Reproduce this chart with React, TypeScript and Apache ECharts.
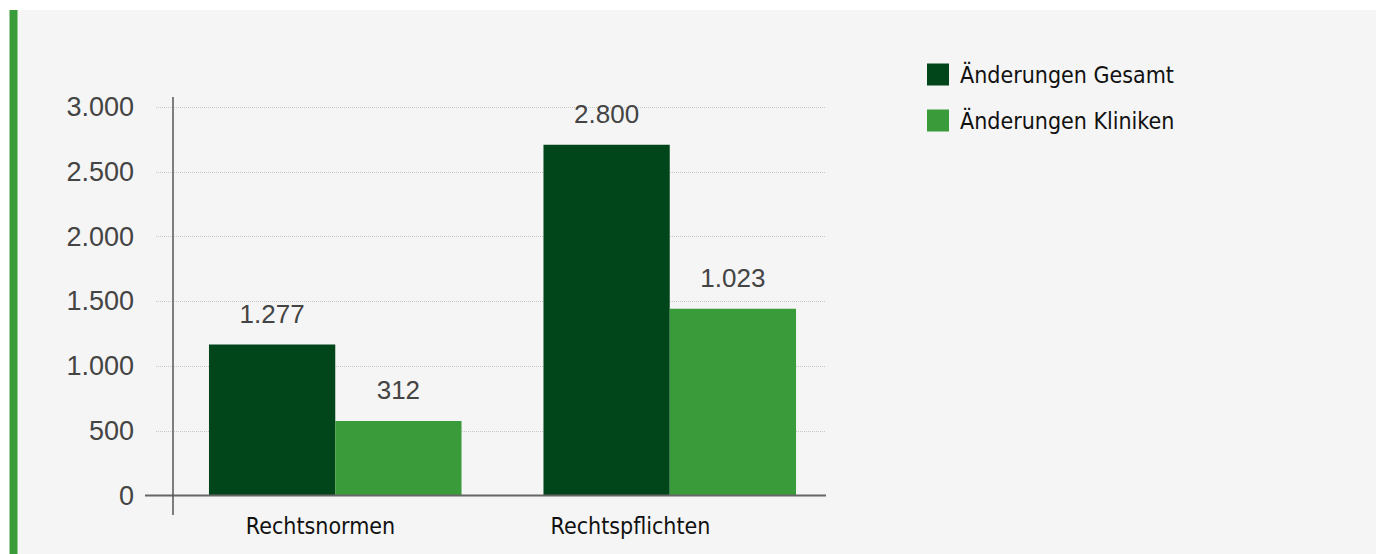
import React, { useEffect, useRef } from "react";
import * as echarts from "echarts";

const categories = ["Rechtsnormen", "Rechtspflichten"];
const seriesNames = ["Änderungen Gesamt", "Änderungen Kliniken"];
const gesamtValues = [1166, 2710];
const klinikenValues = [576, 1443];
const gesamtLabels = ["1.277", "2.800"];
const klinikenLabels = ["312", "1.023"];
const yTicks = [0, 500, 1000, 1500, 2000, 2500, 3000];

const DARK = "#00461a";
const LIGHT = "#3a9b3a";
const NARROW = "'DejaVu Sans Condensed', 'Liberation Sans Narrow', sans-serif";
const SANS = "'Liberation Sans', Arial, sans-serif";

const fmt = (v: number) => v.toLocaleString("de-DE");

export default function App() {
  const ref = useRef<HTMLDivElement>(null);
  useEffect(() => {
    if (!ref.current) return;
    const chart = echarts.init(ref.current, null, { renderer: "svg" });
    const top = 107.3;
    const bottom = 554 - 495.5;
    chart.setOption({
      animation: false,
      backgroundColor: "#ffffff",
      graphic: [
        { type: "rect", z: -100, shape: { x: 10, y: 10, width: 1366, height: 544 }, style: { fill: "#f5f5f5" } },
        { type: "rect", z: -99, shape: { x: 9.5, y: 10, width: 8, height: 544 }, style: { fill: LIGHT } },
        { type: "line", z: 50, shape: { x1: 145, y1: 495.5, x2: 826, y2: 495.5 }, style: { stroke: "#666", lineWidth: 2 } },
        { type: "line", z: 50, shape: { x1: 173, y1: 97, x2: 173, y2: 515 }, style: { stroke: "#555", lineWidth: 1.5 } },
      ],
      legend: {
        orient: "vertical",
        left: 927,
        top: 63,
        padding: 0,
        itemWidth: 22,
        itemHeight: 22,
        itemGap: 23,
        icon: "rect",
        data: seriesNames,
        textStyle: { fontFamily: NARROW, fontSize: 23, lineHeight: 22, color: "#111", padding: [0, 0, 0, 6] },
      },
      grid: [
        { left: 156, right: 1376 - 826, top, bottom },
        { left: 168, right: 1376 - 837, top, bottom },
        { left: 165.5, right: 1376 - 785.5, top, bottom },
      ],
      xAxis: [
        { type: "value", gridIndex: 0, show: false },
        { type: "category", gridIndex: 1, data: categories, show: false },
        {
          type: "category",
          gridIndex: 2,
          data: categories,
          axisLine: { show: false },
          axisTick: { show: false },
          axisLabel: { fontFamily: NARROW, fontSize: 23, color: "#111", margin: 19 },
        },
      ],
      yAxis: [
        {
          type: "value",
          gridIndex: 0,
          min: 0,
          max: 3000,
          interval: 500,
          axisLine: { show: false },
          axisTick: { show: false },
          splitLine: { lineStyle: { type: "dotted", color: "#c8c8c8", width: 1 } },
          axisLabel: {
            fontFamily: SANS,
            fontSize: 27,
            color: "#444",
            margin: 22,
            formatter: (v: number) => (yTicks.includes(v) ? fmt(v) : ""),
          },
        },
        { type: "value", gridIndex: 1, min: 0, max: 3000, show: false },
        { type: "value", gridIndex: 2, min: 0, max: 3000, show: false },
      ],
      series: [
        {
          name: seriesNames[0],
          type: "bar",
          xAxisIndex: 1,
          yAxisIndex: 1,
          data: gesamtValues,
          barGap: "0%",
          barCategoryGap: "24.5%",
          itemStyle: { color: DARK },
          label: {
            show: true,
            position: "top",
            distance: 18,
            fontFamily: SANS,
            fontSize: 26,
            color: "#444",
            formatter: (p: any) => gesamtLabels[p.dataIndex],
          },
        },
        {
          name: seriesNames[1],
          type: "bar",
          xAxisIndex: 1,
          yAxisIndex: 1,
          data: klinikenValues,
          barGap: "0%",
          barCategoryGap: "24.5%",
          itemStyle: { color: LIGHT },
          label: {
            show: true,
            position: "top",
            distance: 18,
            fontFamily: SANS,
            fontSize: 26,
            color: "#444",
            formatter: (p: any) => klinikenLabels[p.dataIndex],
          },
        },
      ],
    });
    return () => chart.dispose();
  }, []);
  return (
    <div
      ref={ref}
      style={{ position: "fixed", left: 0, top: 0, width: 1376, height: 554 }}
    />
  );
}
